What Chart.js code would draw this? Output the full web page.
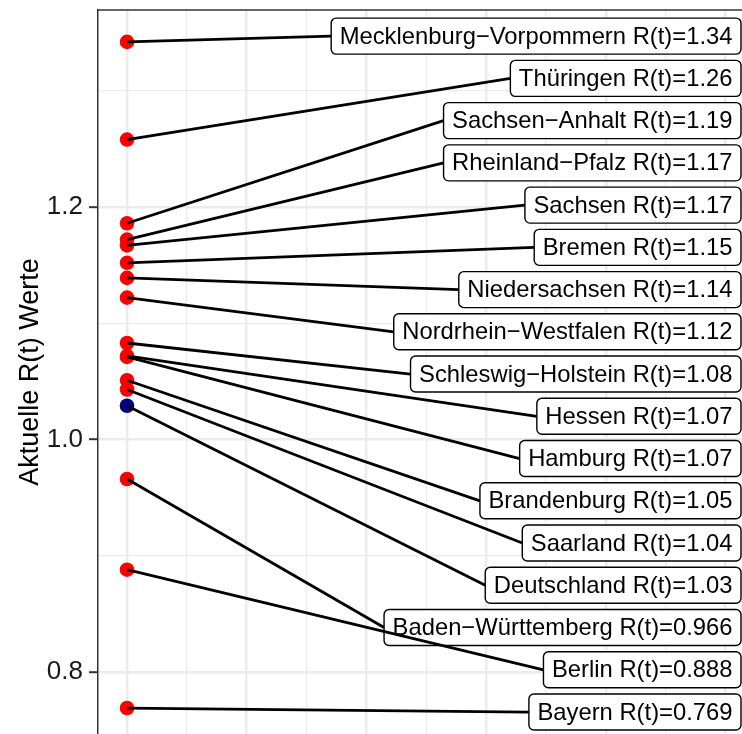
<!DOCTYPE html>
<html>
<head>
<meta charset="utf-8">
<script src="https://cdn.jsdelivr.net/npm/chart.js@4.4.1/dist/chart.umd.min.js"></script>
<style>
  html, body { margin: 0; padding: 0; background: #fff; overflow: hidden; }
  canvas { display: block; }
</style>
</head>
<body>
<canvas id="rChart" width="742" height="734"></canvas>
<script>
// Bundeslaender (alphabetisch, wie im Datensatz) und aktuelle R(t) Werte
const laender = [
  'Baden-Württemberg', 'Bayern', 'Berlin', 'Brandenburg', 'Bremen',
  'Deutschland', 'Hamburg', 'Hessen', 'Mecklenburg-Vorpommern',
  'Niedersachsen', 'Nordrhein-Westfalen', 'Rheinland-Pfalz', 'Saarland',
  'Sachsen', 'Sachsen-Anhalt', 'Schleswig-Holstein', 'Thüringen'
];
const rWerte = [
  0.966, 0.769, 0.888, 1.051, 1.152,
  1.029, 1.071, 1.072, 1.342,
  1.139, 1.122, 1.172, 1.043,
  1.167, 1.186, 1.083, 1.258
];
// Achse
const yTickWerte = [0.8, 1.0, 1.2];
const yTitel = 'Aktuelle R(t) Werte';

// Layout der Beschriftungen (rechts gestapelt wie bei ggrepel)
const labelOben = 1.347;     // Mitte der obersten Box, in R(t)-Einheiten
const labelAbstand = 0.03634;
const labelRechts = 741;     // rechter Rand der Boxen in px
const schrift = '"Liberation Sans", Arial, sans-serif';
const labelGroesse = 23.8;

// Plugin: Verbindungslinien, Boxen und Rahmen zeichnen
const labelPlugin = {
  id: 'rLabels',
  afterDatasetsDraw(chart) {
    const ctx = chart.ctx;
    const xs = chart.scales.x;
    const ys = chart.scales.y;
    const area = chart.chartArea;
    // Rang nach Wert bestimmt die Position der Box
    const rang = rWerte.map((v, i) => i).sort((a, b) => rWerte[b] - rWerte[a]);

    ctx.save();
    ctx.font = labelGroesse + 'px ' + schrift;
    ctx.textBaseline = 'middle';
    laender.forEach((name, i) => {
      const r = rang.indexOf(i);
      const text = name.replace(/-/g, '\u2212') + ' R(t)=' + rWerte[i].toPrecision(3);
      const w = ctx.measureText(text).width + 17;
      const h = 36;
      const cy = ys.getPixelForValue(labelOben - r * labelAbstand);
      const bx = labelRechts - w;
      const px = xs.getPixelForValue(0);
      const py = ys.getPixelForValue(rWerte[i]);

      // Linie vom Punkt zur Box
      ctx.strokeStyle = '#000';
      ctx.lineWidth = 2.8;
      ctx.beginPath();
      ctx.moveTo(px, py);
      ctx.lineTo(bx, cy);
      ctx.stroke();

      // Box
      ctx.fillStyle = '#fff';
      ctx.lineWidth = 1.4;
      ctx.beginPath();
      ctx.roundRect(bx, cy - h / 2, w, h, 5);
      ctx.fill();
      ctx.stroke();

      ctx.fillStyle = '#000';
      ctx.fillText(text, bx + 8.5, cy + 1);
    });

    // Rahmen oben
    ctx.strokeStyle = '#333';
    ctx.lineWidth = 1.5;
    ctx.beginPath();
    ctx.moveTo(area.left, area.top);
    ctx.lineTo(area.right, area.top);
    ctx.stroke();
    ctx.restore();
  }
};

function istHaupt(v) {
  return Math.round(v * 10) % 2 === 0;
}

const ctx = document.getElementById('rChart').getContext('2d');
new Chart(ctx, {
  type: 'scatter',
  data: {
    datasets: [{
      label: 'R(t)',
      data: rWerte.map(v => ({ x: 0, y: v })),
      backgroundColor: laender.map(n => n === 'Deutschland' ? '#000080' : '#ff0000'),
      borderWidth: 0,
      pointRadius: 7.3,
      pointHoverRadius: 7.3
    }]
  },
  options: {
    responsive: false,
    animation: false,
    layout: { padding: { top: 10, left: 0, right: 0, bottom: 0 }, autoPadding: false },
    plugins: {
      legend: { display: false },
      tooltip: { enabled: false }
    },
    scales: {
      x: {
        type: 'linear',
        min: -0.2423,
        max: 5.138,
        afterFit(s) { s.height = 0; s.paddingLeft = 0; s.paddingRight = 0; },
        ticks: { display: false, stepSize: 0.5, includeBounds: false },
        grid: {
          color: '#ebebeb',
          lineWidth: c => (c.tick && Number.isInteger(c.tick.value)) ? 2.4 : 1.2,
          drawTicks: false
        },
        border: { display: false }
      },
      y: {
        min: 0.74666,
        max: 1.36946,
        afterFit(s) { s.width = 98; s.paddingTop = 0; s.paddingBottom = 0; },
        ticks: {
          stepSize: 0.1,
          includeBounds: false,
          color: '#1a1a1a',
          padding: 6,
          font: { size: 26, family: schrift },
          callback: v => yTickWerte.some(t => Math.abs(t - v) < 1e-6) ? v.toFixed(1) : ''
        },
        grid: {
          color: '#ebebeb',
          lineWidth: c => (c.tick && istHaupt(c.tick.value)) ? 2.4 : 1.2,
          tickLength: 9,
          tickWidth: 2,
          tickColor: c => (c.tick && istHaupt(c.tick.value)) ? '#333' : 'rgba(0,0,0,0)'
        },
        border: { display: true, color: '#333', width: 1.5 },
        title: {
          display: true,
          text: yTitel,
          color: '#000',
          font: { size: 27, family: schrift },
          padding: { top: 14, bottom: 0 }
        }
      }
    }
  },
  plugins: [labelPlugin]
});
</script>
</body>
</html>
